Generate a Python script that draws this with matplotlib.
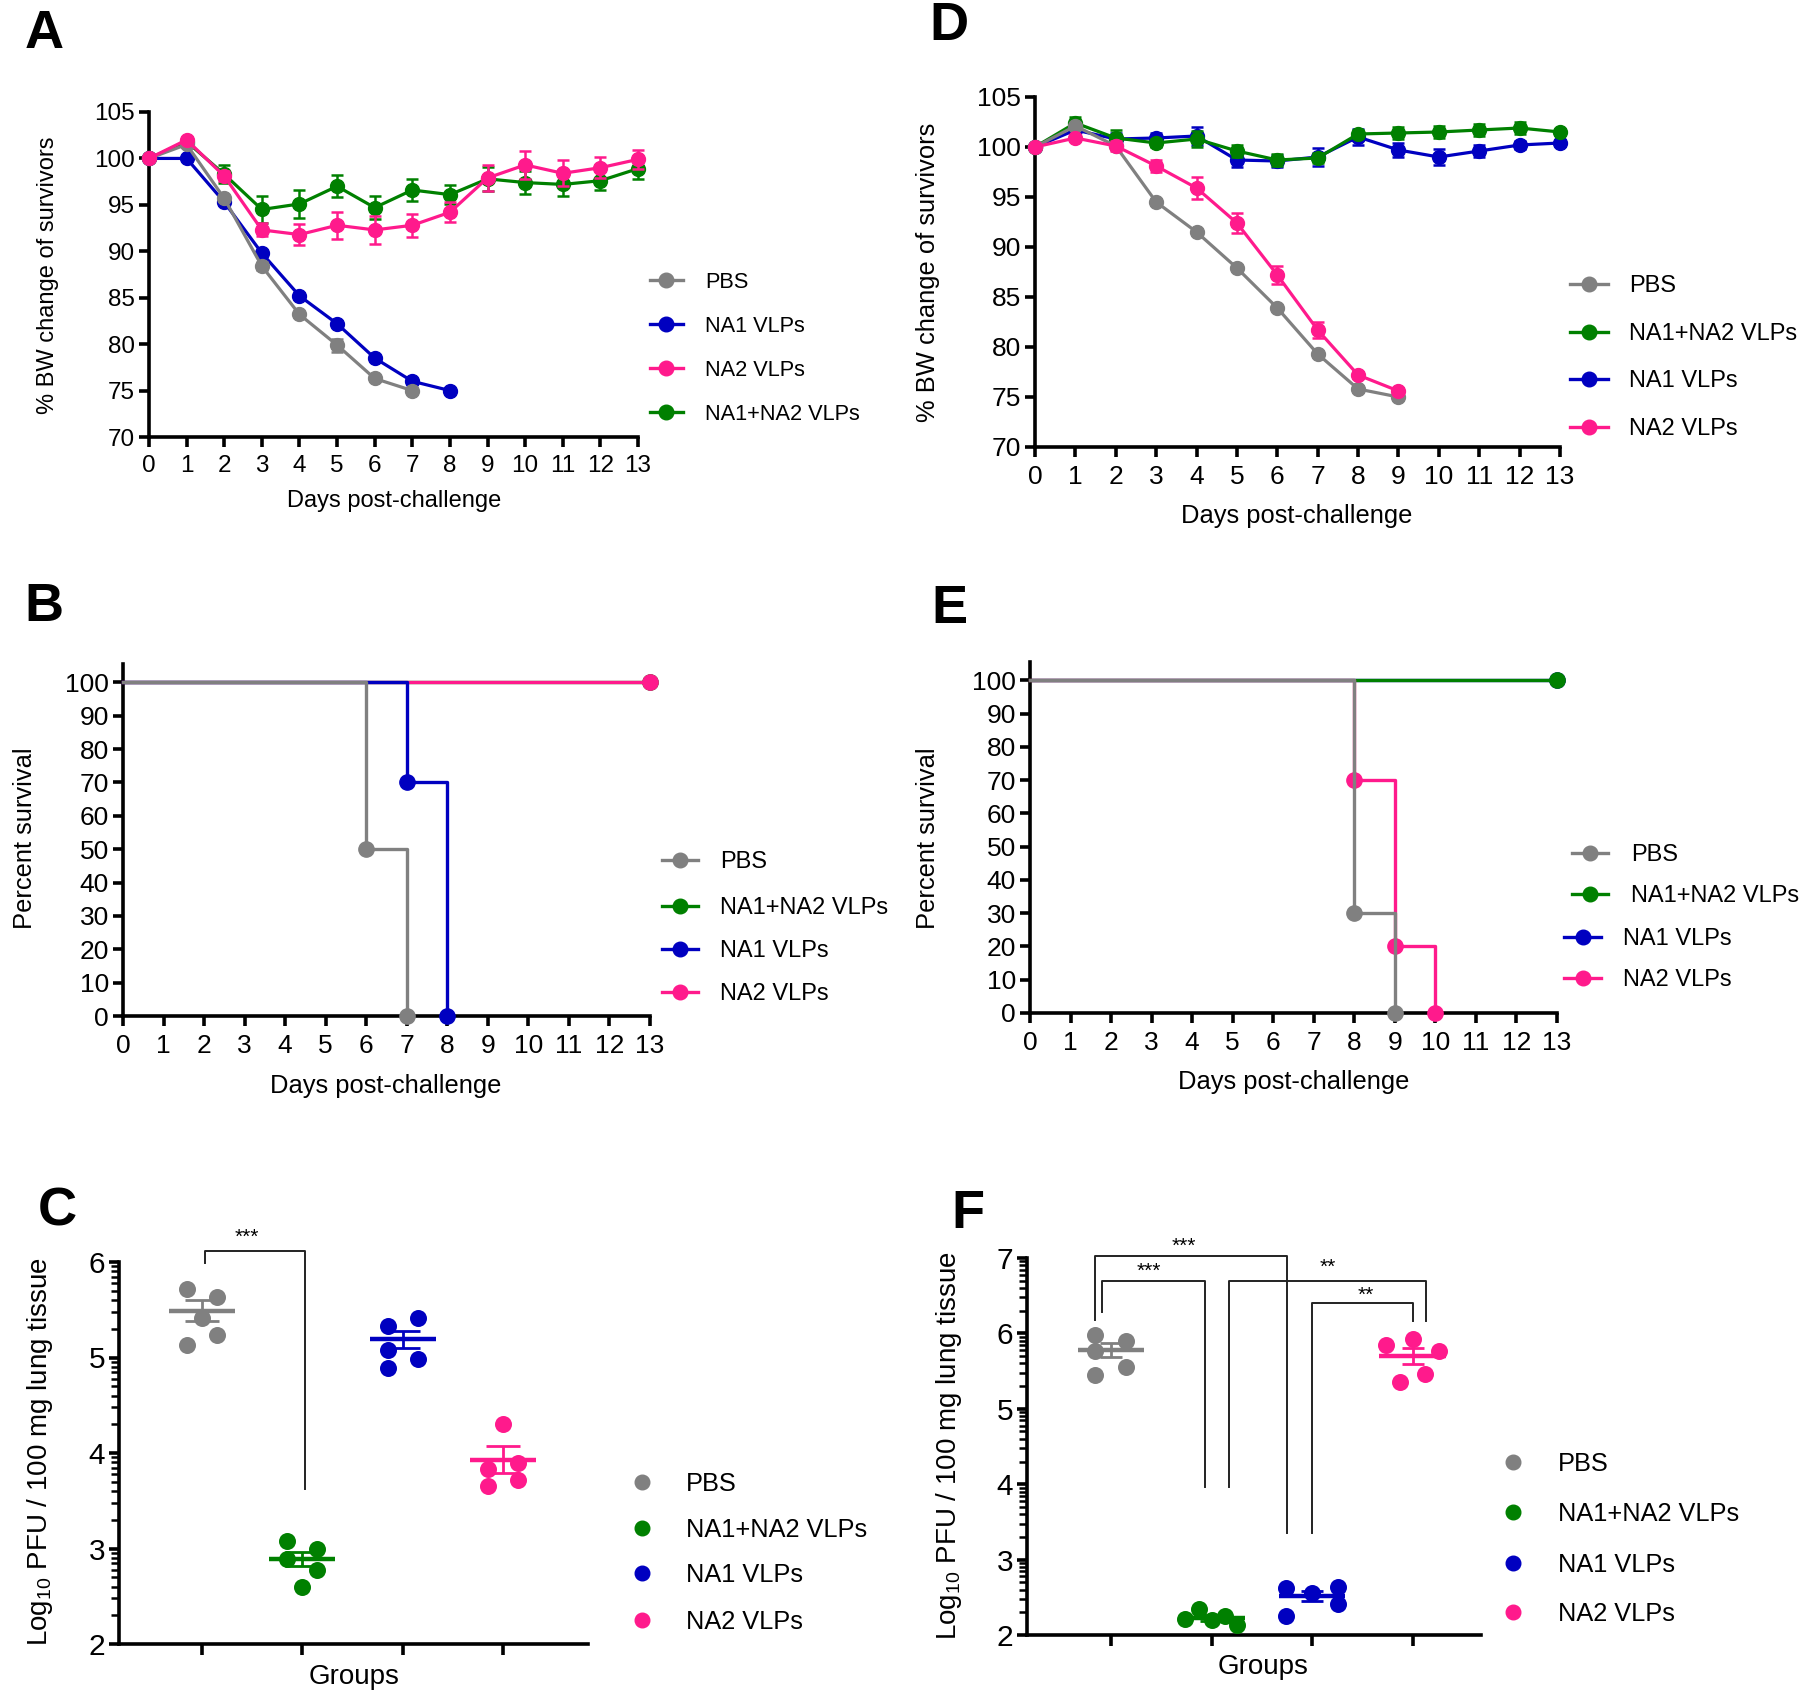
import matplotlib
matplotlib.use('Agg')
import matplotlib.pyplot as plt
from matplotlib.lines import Line2D
import numpy as np

plt.rcParams['font.family'] = ['Liberation Sans', 'DejaVu Sans']
plt.rcParams['mathtext.fontset'] = 'custom'
plt.rcParams['mathtext.rm'] = 'Liberation Sans'
plt.rcParams['mathtext.it'] = 'Liberation Sans:italic'
plt.rcParams['mathtext.bf'] = 'Liberation Sans:bold'

W, H = 1800, 1693

# ------------------------------------------------------------------ data
COL_PBS, COL_BOTH, COL_NA1, COL_NA2 = '#808080', '#008000', '#0000c0', '#ff1a8c'
LBL_PBS, LBL_BOTH, LBL_NA1, LBL_NA2 = 'PBS', 'NA1+NA2 VLPs', 'NA1 VLPs', 'NA2 VLPs'

DAYS = list(range(14))

# Panel A: % body weight (mean, SEM)
A_PBS = [100, 101.5, 95.7, 88.4, 83.2, 79.9, 76.3, 75.0]
A_PBS_ERR = [0, 0.3, 0.3, 0.4, 0.3, 0.7, 0.3, 0.2]
A_NA1 = [100, 100.0, 95.3, 89.8, 85.2, 82.2, 78.5, 76.0, 75.0]
A_NA1_ERR = [0, 0.2, 0.3, 0.3, 0.3, 0.3, 0.3, 0.2, 0.1]
A_NA2 = [100, 102.0, 98.1, 92.3, 91.8, 92.8, 92.3, 92.8, 94.2, 97.9, 99.3, 98.4, 99.0, 99.9]
A_NA2_ERR = [0, 0.3, 0.5, 0.7, 1.1, 1.45, 1.5, 1.25, 1.1, 1.4, 1.5, 1.4, 1.1, 1.0]
A_BOTH = [100, 101.8, 98.3, 94.5, 95.1, 97.0, 94.7, 96.6, 96.1, 97.8, 97.4, 97.2, 97.6, 98.9]
A_BOTH_ERR = [0, 0.3, 1.0, 1.5, 1.5, 1.2, 1.2, 1.2, 1.05, 1.3, 1.2, 1.2, 1.0, 1.1]

# Panel D: % body weight (mean, SEM)
D_PBS = [100, 102.1, 100.1, 94.5, 91.5, 87.9, 83.9, 79.3, 75.8, 75.0]
D_PBS_ERR = [0, 0.3, 0.3, 0.3, 0.3, 0.3, 0.3, 0.3, 0.3, 0.3]
D_NA2 = [100, 100.9, 100.1, 98.1, 95.9, 92.4, 87.2, 81.7, 77.2, 75.6]
D_NA2_ERR = [0, 0.3, 0.5, 0.6, 1.1, 1.0, 0.9, 0.8, 0.3, 0.3]
D_NA1 = [100, 101.7, 100.8, 100.9, 101.1, 98.7, 98.6, 99.0, 101.0, 99.7, 99.0, 99.6, 100.2, 100.4]
D_NA1_ERR = [0, 0.6, 0.6, 0.5, 0.9, 0.7, 0.6, 0.9, 0.8, 0.7, 0.8, 0.6, 0.4, 0.3]
D_BOTH = [100, 102.4, 100.9, 100.4, 100.8, 99.6, 98.7, 98.9, 101.3, 101.4, 101.5, 101.7, 101.9, 101.5]
D_BOTH_ERR = [0, 0.6, 0.8, 0.4, 0.8, 0.6, 0.6, 0.5, 0.4, 0.6, 0.6, 0.6, 0.6, 0.3]

# Panel B: survival (event days, percent)
B_PBS_T, B_PBS_S = [0, 6, 7], [100, 50, 0]
B_BOTH_T, B_BOTH_S = [0, 13], [100, 100]
B_NA1_T, B_NA1_S = [0, 7, 8], [100, 70, 0]
B_NA2_T, B_NA2_S = [0, 13], [100, 100]

# Panel E: survival
E_PBS_T, E_PBS_S = [0, 8, 9], [100, 30, 0]
E_BOTH_T, E_BOTH_S = [0, 13], [100, 100]
E_NA1_T, E_NA1_S = [0, 13], [100, 100]
E_NA2_T, E_NA2_S = [0, 8, 9, 10], [100, 70, 20, 0]

# Panel C: log10 PFU per 100 mg lung (individual mice, mean, SEM)
C_PBS = [5.72, 5.63, 5.41, 5.24, 5.13]
C_BOTH = [3.08, 3.00, 2.89, 2.78, 2.60]
C_NA1 = [5.33, 5.41, 5.08, 4.98, 4.89]
C_NA2 = [4.30, 3.83, 3.90, 3.65, 3.72]
C_MEAN = [5.49, 2.89, 5.19, 3.93]
C_SEM = [0.11, 0.075, 0.09, 0.14]

# Panel F
F_PBS = [5.98, 5.90, 5.76, 5.56, 5.45]
F_BOTH = [2.21, 2.35, 2.20, 2.25, 2.13]
F_NA1 = [2.62, 2.56, 2.63, 2.41, 2.25]
F_NA2 = [5.84, 5.92, 5.77, 5.46, 5.35]
F_MEAN = [5.78, 2.22, 2.52, 5.70]
F_SEM = [0.09, 0.04, 0.065, 0.10]

# significance labels
C_SIG = ['***']
F_SIG = ['***', '***', '**', '**']

# ------------------------------------------------------------------ layout
C_JIT = [[-0.15, 0.15, 0, 0.15, -0.15],
         [-0.15, 0.15, -0.15, 0.15, 0],
         [-0.15, 0.15, -0.15, 0.15, -0.15],
         [0, -0.15, 0.15, -0.15, 0.15]]
F_JIT = [[-0.155, 0.15, -0.155, 0.15, -0.155],
         [-0.26, -0.125, 0, 0.13, 0.25],
         [-0.26, 0, 0.26, 0.26, -0.26],
         [-0.26, 0, 0.26, 0.12, -0.13]]

fig = plt.figure(figsize=(W / 100, H / 100), dpi=100)
fig.patch.set_facecolor('white')


def add_ax(l, t, r, b):
    return fig.add_axes([l / W, 1 - b / H, (r - l) / W, (b - t) / H])


def style(ax, fs, xpad=5, ypad=3):
    for s in ['top', 'right']:
        ax.spines[s].set_visible(False)
    for s in ['left', 'bottom']:
        ax.spines[s].set_linewidth(2.6)
    ax.tick_params(which='major', width=2.6, length=7, labelsize=fs, direction='out')
    ax.tick_params(axis='x', pad=xpad)
    ax.tick_params(axis='y', pad=ypad)
    ax.patch.set_alpha(0)


def ftext(x, y, s, **kw):
    return fig.text(x / W, 1 - y / H, s, **kw)


def legend_entry(y, x1, x2, xm, xt, color, label, fs, line=True):
    fy = 1 - y / H
    if line:
        fig.add_artist(Line2D([x1 / W, x2 / W], [fy, fy], transform=fig.transFigure,
                              color=color, lw=2.4))
    fig.add_artist(Line2D([xm / W], [fy], transform=fig.transFigure, color=color,
                          marker='o', ms=10.5, lw=0))
    cap = fs * 100 / 72 * 0.716
    ftext(xt, y + cap / 2, label, fontsize=fs, ha='left', va='baseline')


def panel_letter(x, y, s, fs=39):
    cap = fs * 100 / 72 * 0.716
    ftext(x, y + cap / 2, s, fontsize=fs, fontweight='bold', ha='center', va='baseline')


def bw_series(ax, y, err, color, z):
    x = DAYS[:len(y)]
    eb = ax.errorbar(x, y, yerr=err, color=color, lw=2.3, marker='o', ms=10,
                     capsize=4.5, capthick=1.8, elinewidth=1.8, zorder=z)
    for art in eb.get_children():
        art.set_clip_on(False)


def surv_series(ax, t, s, color, z):
    ax.step(t, s, where='post', color=color, lw=2.4, zorder=z, clip_on=False)
    ax.plot(t[1:], s[1:], 'o', color=color, ms=11, zorder=z + 0.1, clip_on=False)


# ------------------------------------------------------------------ Panel A
ax = add_ax(149, 112, 638, 437)
style(ax, 17.5, xpad=6)
bw_series(ax, A_BOTH, A_BOTH_ERR, COL_BOTH, 2)
bw_series(ax, A_NA1, A_NA1_ERR, COL_NA1, 3)
bw_series(ax, A_PBS, A_PBS_ERR, COL_PBS, 4)
bw_series(ax, A_NA2, A_NA2_ERR, COL_NA2, 5)
ax.set_xlim(0, 13)
ax.set_ylim(70, 105)
ax.set_xticks(DAYS)
ax.set_yticks(np.arange(70, 106, 5))
ftext(394, 501, 'Days post-challenge', fontsize=17, ha='center', va='center')
ftext(48, 275, '% BW change of survivors', fontsize=17, ha='center', va='center', rotation=90)
panel_letter(44, 29, 'A')
for y, c, lab in zip([280, 324, 368, 412], [COL_PBS, COL_NA1, COL_NA2, COL_BOTH],
                     [LBL_PBS, LBL_NA1, LBL_NA2, LBL_BOTH]):
    legend_entry(y, 650, 683, 666, 705, c, lab, 15.7)

# ------------------------------------------------------------------ Panel D
ax = add_ax(1035, 97, 1560, 447)
style(ax, 19, xpad=6)
bw_series(ax, D_NA1, D_NA1_ERR, COL_NA1, 2)
bw_series(ax, D_BOTH, D_BOTH_ERR, COL_BOTH, 3)
bw_series(ax, D_PBS, D_PBS_ERR, COL_PBS, 4)
bw_series(ax, D_NA2, D_NA2_ERR, COL_NA2, 5)
ax.set_xlim(0, 13)
ax.set_ylim(70, 105)
ax.set_xticks(DAYS)
ax.set_yticks(np.arange(70, 106, 5))
ftext(1297, 516, 'Days post-challenge', fontsize=18.4, ha='center', va='center')
ftext(928, 272, '% BW change of survivors', fontsize=18.4, ha='center', va='center', rotation=90)
panel_letter(949, 21, 'D')
for y, c, lab in zip([284, 332, 379, 427], [COL_PBS, COL_BOTH, COL_NA1, COL_NA2],
                     [LBL_PBS, LBL_BOTH, LBL_NA1, LBL_NA2]):
    legend_entry(y, 1570, 1608, 1589, 1629, c, lab, 17)

# ------------------------------------------------------------------ Panel B
ax = add_ax(123, 664, 650, 1016)
style(ax, 19, xpad=6)
surv_series(ax, B_BOTH_T, B_BOTH_S, COL_BOTH, 2)
surv_series(ax, B_NA2_T, B_NA2_S, COL_NA2, 3)
surv_series(ax, B_NA1_T, B_NA1_S, COL_NA1, 4)
surv_series(ax, B_PBS_T, B_PBS_S, COL_PBS, 5)
ax.set_xlim(0, 13)
ax.set_ylim(0, 105.5)
ax.set_xticks(DAYS)
ax.set_yticks(np.arange(0, 101, 10))
ftext(386, 1086, 'Days post-challenge', fontsize=18.4, ha='center', va='center')
ftext(25, 838, 'Percent survival', fontsize=18.4, ha='center', va='center', rotation=90)
panel_letter(44, 602, 'B')
for y, c, lab in zip([860, 906, 949, 992], [COL_PBS, COL_BOTH, COL_NA1, COL_NA2],
                     [LBL_PBS, LBL_BOTH, LBL_NA1, LBL_NA2]):
    legend_entry(y, 662, 698, 680, 720, c, lab, 17)

# ------------------------------------------------------------------ Panel E
ax = add_ax(1030, 662, 1557, 1013)
style(ax, 19, xpad=6)
surv_series(ax, E_NA1_T, E_NA1_S, COL_NA1, 2)
surv_series(ax, E_BOTH_T, E_BOTH_S, COL_BOTH, 3)
surv_series(ax, E_NA2_T, E_NA2_S, COL_NA2, 4)
surv_series(ax, E_PBS_T, E_PBS_S, COL_PBS, 5)
ax.set_xlim(0, 13)
ax.set_ylim(0, 105.5)
ax.set_xticks(DAYS)
ax.set_yticks(np.arange(0, 101, 10))
ftext(1294, 1082, 'Days post-challenge', fontsize=18.4, ha='center', va='center')
ftext(928, 838, 'Percent survival', fontsize=18.4, ha='center', va='center', rotation=90)
panel_letter(949, 604, 'E')
for y, x1, x2, xt, c, lab in zip([853, 894, 937, 978], [1572, 1572, 1564, 1564],
                                 [1608, 1608, 1601, 1601], [1631, 1631, 1623, 1623],
                                 [COL_PBS, COL_BOTH, COL_NA1, COL_NA2],
                                 [LBL_PBS, LBL_BOTH, LBL_NA1, LBL_NA2]):
    legend_entry(y, x1, x2, (x1 + x2) / 2, xt, c, lab, 17)


# ------------------------------------------------------------------ dot plots
def dot_panel(ax, groups, means, sems, jit, colors, half_mean, half_cap, ymin, ymax):
    for i, (vals, m, s, j, c) in enumerate(zip(groups, means, sems, jit, colors)):
        ax.scatter(np.array(j) + i, vals, s=150, color=c, linewidths=0, zorder=3, clip_on=False)
        ax.hlines(m, i - half_mean, i + half_mean, color=c, lw=3.2, zorder=4)
        ax.vlines(i, m - s, m + s, color=c, lw=2.0, zorder=4)
        ax.hlines([m - s, m + s], i - half_cap, i + half_cap, color=c, lw=2.0, zorder=4)
    ax.set_ylim(ymin, ymax)
    ax.set_yticks(np.arange(ymin, ymax + 1, 1))
    minors = [n + np.log10(k) for n in range(ymin, ymax) for k in range(2, 10)]
    ax.set_yticks(minors, minor=True)
    ax.tick_params(which='minor', axis='y', length=6, width=1.8)
    ax.set_xticks(range(4))
    ax.set_xticklabels([])
    ax.tick_params(axis='x', length=8)


def bracket(ax, x1, b1, x2, b2, top, label, lx, ly):
    ax.plot([x1, x1, x2, x2], [b1, top, top, b2], color='#222222', lw=1.4, clip_on=False,
            zorder=6)
    ax.text(lx, ly, label, fontsize=15, ha='center', va='center', clip_on=False)


colors4 = [COL_PBS, COL_BOTH, COL_NA1, COL_NA2]
labels4 = [LBL_PBS, LBL_BOTH, LBL_NA1, LBL_NA2]

# Panel C
ax = add_ax(119, 1262, 588, 1644)
style(ax, 21.5)
dot_panel(ax, [C_PBS, C_BOTH, C_NA1, C_NA2], C_MEAN, C_SEM, C_JIT, colors4, 0.33, 0.17, 2, 6)
ax.set_xlim(-0.83, 3.85)
bracket(ax, 0.03, 5.99, 1.03, 3.62, 6.11, C_SIG[0], 0.45, 6.26)
ftext(354, 1677, 'Groups', fontsize=20, ha='center', va='center')
ftext(40, 1452, r'Log$_{\mathregular{10}}$ PFU / 100 mg lung tissue', fontsize=20,
      ha='center', va='center', rotation=90)
panel_letter(57, 1206, 'C')
for y, c, lab in zip([1482, 1528, 1573, 1620], colors4, labels4):
    legend_entry(y, 0, 0, 642, 686, c, lab, 18.3, line=False)

# Panel F
ax = add_ax(1027, 1258, 1481, 1635)
style(ax, 21.5)
dot_panel(ax, [F_PBS, F_BOTH, F_NA1, F_NA2], F_MEAN, F_SEM, F_JIT, colors4, 0.33, 0.11, 2, 7)
ax.set_xlim(-0.835, 3.68)
bracket(ax, -0.157, 6.18, 1.75, 3.35, 7.03, F_SIG[0], 0.72, 7.15)
bracket(ax, -0.085, 6.28, 0.94, 3.96, 6.70, F_SIG[1], 0.38, 6.82)
bracket(ax, 1.17, 3.96, 3.13, 6.17, 6.70, F_SIG[2], 2.16, 6.88)
bracket(ax, 2.0, 3.35, 3.0, 6.17, 6.40, F_SIG[3], 2.53, 6.50)
ftext(1263, 1667, 'Groups', fontsize=20, ha='center', va='center')
ftext(949, 1446, r'Log$_{\mathregular{10}}$ PFU / 100 mg lung tissue', fontsize=20,
      ha='center', va='center', rotation=90)
panel_letter(968, 1209, 'F')
for y, c, lab in zip([1462, 1512, 1563, 1612], colors4, labels4):
    legend_entry(y, 0, 0, 1513, 1558, c, lab, 18.3, line=False)

fig.savefig('out.png', dpi=100, facecolor='white')
